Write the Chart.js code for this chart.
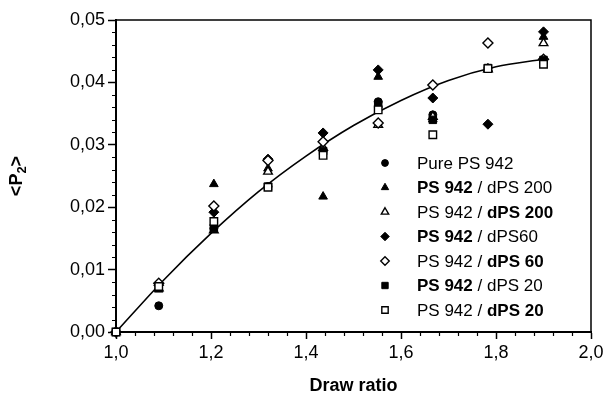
<!DOCTYPE html>
<html>
<head>
<meta charset="utf-8">
<script src="https://cdn.jsdelivr.net/npm/chart.js@4/dist/chart.umd.min.js"></script>
<style>
html,body{margin:0;padding:0;background:#fff;}
#wrap{width:608px;height:404px;position:relative;}
</style>
</head>
<body>
<div id="wrap"><canvas id="c" width="608" height="404"></canvas></div>
<script>
// Draw ratios of the measured samples
const drawRatio = [1.00, 1.09, 1.206, 1.32, 1.436, 1.552, 1.667, 1.783, 1.90];
// <P2> values for each blend
const purePS942     = [0, 0.0042, 0.0166, 0.0233, 0.0290, 0.0369, 0.0348, 0.0423, 0.0436];
const ps942B_dps200 = [0, 0.0068, 0.0237, 0.0262, 0.0217, 0.0409, 0.0341, 0.0422, 0.0473];
const ps942_dps200B = [0, 0.0070, 0.0163, 0.0257, 0.0295, 0.0332, 0.0345, 0.0421, 0.0463];
const ps942B_dps60  = [0, 0.0075, 0.0192, 0.0277, 0.0319, 0.0420, 0.0375, 0.0333, 0.0481];
const ps942_dps60B  = [0, 0.0078, 0.0202, 0.0275, 0.0305, 0.0335, 0.0396, 0.0463, 0.0437];
const ps942B_dps20  = [0, 0.0072, 0.0167, 0.0233, 0.0290, 0.0365, 0.0340, 0.0423, 0.0436];
const ps942_dps20B  = [0, 0.0073, 0.0177, 0.0232, 0.0283, 0.0356, 0.0316, 0.0422, 0.0429];
// Fitted trend curve
const fitX = [1.0, 1.1, 1.2, 1.3, 1.4, 1.5, 1.6, 1.7, 1.8, 1.9];
const fitY = [0, 0.0083, 0.0158, 0.0225, 0.0282, 0.0331, 0.0371, 0.0403, 0.0425, 0.0437];
// Tick labels
const xTickLabels = ['1,0', '1,2', '1,4', '1,6', '1,8', '2,0'];
const yTickLabels = ['0,00', '0,01', '0,02', '0,03', '0,04', '0,05'];

const FONT = "'Liberation Sans', Arial, Helvetica, sans-serif";

function pts(ys){ return ys.map((y,i)=>({x:drawRatio[i], y:y})); }

const seriesDefs = [
  {data: purePS942,     style:'circle',   fill:true,  r:4,   legend:[['Pure PS 942',false]]},
  {data: ps942B_dps200, style:'triangle', fill:true,  r:5,   legend:[['PS 942',true],[' / dPS 200',false]]},
  {data: ps942_dps200B, style:'triangle', fill:false, r:5,   legend:[['PS 942 / ',false],['dPS 200',true]]},
  {data: ps942B_dps60,  style:'rectRot',  fill:true,  r:5,   legend:[['PS 942',true],[' / dPS60',false]]},
  {data: ps942_dps60B,  style:'rectRot',  fill:false, r:5,   legend:[['PS 942 / ',false],['dPS 60',true]]},
  {data: ps942B_dps20,  style:'rect',     fill:true,  r:5.3, legend:[['PS 942',true],[' / dPS 20',false]]},
  {data: ps942_dps20B,  style:'rect',     fill:false, r:5.3, legend:[['PS 942 / ',false],['dPS 20',true]]}
];

const datasets = seriesDefs.map((s,i)=>({
  type:'scatter',
  data: pts(s.data),
  pointStyle: s.style,
  pointRadius: s.r,
  pointHoverRadius: s.r,
  pointBackgroundColor: s.fill ? '#000' : '#fff',
  pointBorderColor: '#000',
  pointBorderWidth: s.fill ? 1 : 1.4,
  showLine:false,
  clip:false,
  order: seriesDefs.length - i
}));
datasets.push({
  type:'line',
  data: fitX.map((x,i)=>({x:x,y:fitY[i]})),
  borderColor:'#000',
  borderWidth:1.6,
  pointRadius:0,
  tension:0.4,
  cubicInterpolationMode:'monotone',
  fill:false,
  clip:false,
  order: 20
});

function drawShape(ctx, style, x, y, r, fill){
  ctx.save();
  ctx.beginPath();
  if(style==='circle'){ ctx.arc(x,y,r,0,Math.PI*2); }
  else if(style==='triangle'){
    ctx.moveTo(x, y - r);
    ctx.lineTo(x + r*0.866, y + r*0.5);
    ctx.lineTo(x - r*0.866, y + r*0.5);
    ctx.closePath();
  } else if(style==='rectRot'){
    ctx.moveTo(x, y-r); ctx.lineTo(x+r, y); ctx.lineTo(x, y+r); ctx.lineTo(x-r, y); ctx.closePath();
  } else {
    const s = r*0.707; ctx.rect(x-s, y-s, 2*s, 2*s);
  }
  ctx.fillStyle = fill ? '#000' : '#fff';
  ctx.fill();
  ctx.lineWidth = fill ? 1 : 1.4;
  ctx.strokeStyle = '#000';
  ctx.stroke();
  ctx.restore();
}

const decor = {
  id:'decor',
  beforeDatasetsDraw(chart){
    const ctx = chart.ctx, a = chart.chartArea;
    ctx.save();
    ctx.strokeStyle = '#000';
    ctx.lineWidth = 1.5;
    ctx.beginPath();
    ctx.moveTo(a.left, a.top); ctx.lineTo(a.right, a.top); ctx.lineTo(a.right, a.bottom);
    ctx.stroke();
    // minor ticks
    const xs = chart.scales.x, ys = chart.scales.y;
    ctx.lineWidth = 1.2;
    ctx.beginPath();
    for(let k=1;k<25;k++){
      if(k%5===0) continue;
      const v = 1 + k*0.04;
      const px = Math.round(xs.getPixelForValue(v))+0.5;
      ctx.moveTo(px, a.bottom); ctx.lineTo(px, a.bottom+4);
    }
    for(let k=1;k<25;k++){
      if(k%5===0) continue;
      const v = k*0.002;
      const py = Math.round(ys.getPixelForValue(v))+0.5;
      ctx.moveTo(a.left, py); ctx.lineTo(a.left-4, py);
    }
    ctx.stroke();
    ctx.restore();
  },
  afterDraw(chart){
    const ctx = chart.ctx;
    // Legend
    const rowsY = [163, 187.5, 212, 236.5, 261, 285.5, 310];
    ctx.save();
    ctx.textBaseline = 'middle';
    seriesDefs.forEach((s,i)=>{
      const y = rowsY[i];
      drawShape(ctx, s.style, 385, y, s.r*0.85, s.fill);
      let x = 417;
      s.legend.forEach(([t,b])=>{
        ctx.font = (b?'bold ':'') + '17px ' + FONT;
        ctx.fillStyle = '#000';
        ctx.fillText(t, x, y+1);
        x += ctx.measureText(t).width;
      });
    });
    // Y axis title <P2>
    ctx.translate(16, 176);
    ctx.rotate(-Math.PI/2);
    const p1 = '<P', p3 = '>';
    ctx.font = 'bold 18px ' + FONT;
    const w1 = ctx.measureText(p1).width;
    ctx.font = 'bold 13px ' + FONT;
    const w2 = ctx.measureText('2').width;
    ctx.font = 'bold 18px ' + FONT;
    const w3 = ctx.measureText(p3).width;
    const total = w1 + w2 + w3;
    let sx = -total/2;
    ctx.textBaseline = 'alphabetic';
    ctx.fillText(p1, sx, 6); sx += w1;
    ctx.font = 'bold 13px ' + FONT;
    ctx.fillText('2', sx, 10); sx += w2;
    ctx.font = 'bold 18px ' + FONT;
    ctx.fillText(p3, sx, 6);
    ctx.restore();
  }
};

new Chart(document.getElementById('c'), {
  data:{ datasets: datasets },
  options:{
    responsive:false,
    animation:false,
    devicePixelRatio:1,
    layout:{ padding:{ top:20, right:17, left:0, bottom:7 } },
    plugins:{ legend:{display:false}, tooltip:{enabled:false}, title:{display:false} },
    scales:{
      x:{
        type:'linear', min:1.0, max:2.0,
        afterFit(s){ s.height = 65; },
        ticks:{ stepSize:0.2, color:'#000', padding:3,
          font:{ family:FONT, size:18 },
          callback:(v)=>{ const i = Math.round((v-1)/0.2); return xTickLabels[i] ?? ''; } },
        grid:{ display:true, drawOnChartArea:false, drawTicks:true, tickLength:7, tickWidth:1.5, tickColor:'#000', color:'#000' },
        border:{ display:true, color:'#000', width:2 },
        title:{ display:true, text:'Draw ratio', color:'#000', font:{ family:FONT, size:18, weight:'bold' }, padding:{ top:6, bottom:0 } }
      },
      y:{
        type:'linear', min:0, max:0.05,
        afterFit(s){ s.width = 116; },
        ticks:{ stepSize:0.01, color:'#000', padding:3,
          font:{ family:FONT, size:18 },
          callback:(v)=>{ const i = Math.round(v/0.01); return yTickLabels[i] ?? ''; } },
        grid:{ display:true, drawOnChartArea:false, drawTicks:true, tickLength:8, tickWidth:1.5, tickColor:'#000', color:'#000' },
        border:{ display:true, color:'#000', width:2 }
      }
    }
  },
  plugins:[decor]
});
</script>
</body>
</html>
